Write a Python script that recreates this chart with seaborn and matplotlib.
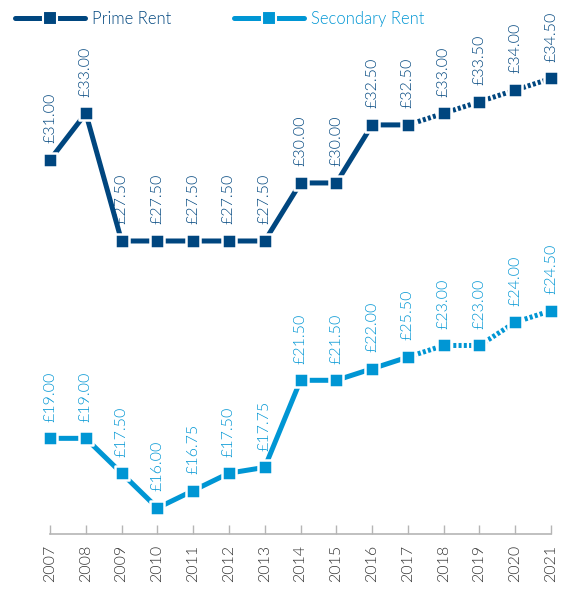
import matplotlib
matplotlib.use('Agg')
import matplotlib.pyplot as plt
import seaborn as sns
import pandas as pd
from matplotlib.lines import Line2D

years = list(range(2007, 2022))
prime_rent = [31.00, 33.00, 27.50, 27.50, 27.50, 27.50, 27.50, 30.00, 30.00,
              32.50, 32.50, 33.00, 33.50, 34.00, 34.50]
prime_labels = ["£31.00", "£33.00", "£27.50", "£27.50", "£27.50", "£27.50", "£27.50",
                "£30.00", "£30.00", "£32.50", "£32.50", "£33.00", "£33.50", "£34.00", "£34.50"]
secondary_rent = [19.00, 19.00, 17.50, 16.00, 16.75, 17.50, 17.75, 21.50, 21.50,
                  22.00, 22.50, 23.00, 23.00, 24.00, 24.50]
secondary_labels = ["£19.00", "£19.00", "£17.50", "£16.00", "£16.75", "£17.50", "£17.75",
                    "£21.50", "£21.50", "£22.00", "£25.50", "£23.00", "£23.00", "£24.00", "£24.50"]
forecast_from = 2017
series_names = ["Prime Rent", "Secondary Rent"]
colors = ["#00467f", "#0096d4"]

sns.set_theme(style='white')
plt.rcParams['font.family'] = ['Lato', 'DejaVu Sans']

fig = plt.figure(figsize=(5.65, 5.89), dpi=100)
ax = fig.add_axes([40/565, 55/589, 520/565, 534/589])

LW = 3.6
for values, labels, color in [(prime_rent, prime_labels, colors[0]),
                              (secondary_rent, secondary_labels, colors[1])]:
    df = pd.DataFrame({'year': years, 'value': values})
    solid = df[df.year <= forecast_from]
    dotted = df[df.year >= forecast_from]
    sns.lineplot(data=solid, x='year', y='value', color=color, lw=LW, ax=ax,
                 solid_capstyle='butt', zorder=2)
    sns.lineplot(data=dotted, x='year', y='value', color=color, lw=LW, ax=ax,
                 linestyle=(0, (0.6, 0.45)), dash_capstyle='butt', zorder=2)
    sns.scatterplot(data=df, x='year', y='value', marker='s', s=110, color=color,
                    edgecolor='white', linewidth=1.8, ax=ax, zorder=3)
    for x, y, t in zip(years, values, labels):
        ax.annotate(t, (x, y), xytext=(0, 12), textcoords='offset points',
                    rotation=90, ha='center', va='bottom', color=color,
                    fontsize=11.5, fontweight=300, annotation_clip=False)

ax.set_xlim(2006.72, 2021.25)
ax.set_ylim(14.88, 37.88)
for s in ['top', 'right', 'left']:
    ax.spines[s].set_visible(False)
ax.spines['bottom'].set_bounds(2007, 2021)
ax.spines['bottom'].set_color('#b5b5b5')
ax.spines['bottom'].set_linewidth(1.2)
ax.set_xticks(years)
ax.set_xticklabels([str(y) for y in years], rotation=90, fontweight=300)
ax.tick_params(axis='x', direction='in', length=6.5, width=1, color='#b5b5b5',
               labelsize=11.5, labelcolor='#333333', pad=8, bottom=True)
ax.set_yticks([])
ax.set_xlabel('')
ax.set_ylabel('')

handles = [Line2D([0], [0], color=c, lw=LW, marker='s', markersize=10,
                  markeredgecolor='white', markeredgewidth=1.5) for c in colors]
leg = fig.legend(handles, series_names, loc='upper left',
                 bbox_to_anchor=(15/565, 1 - 11/589),
                 ncol=2, frameon=False, handlelength=4.2, handletextpad=0.4,
                 columnspacing=3.8, borderaxespad=0, borderpad=0,
                 prop={'size': 12, 'weight': 300})
for txt, c in zip(leg.get_texts(), colors):
    txt.set_color(c)

fig.savefig('out.png', dpi=100)
